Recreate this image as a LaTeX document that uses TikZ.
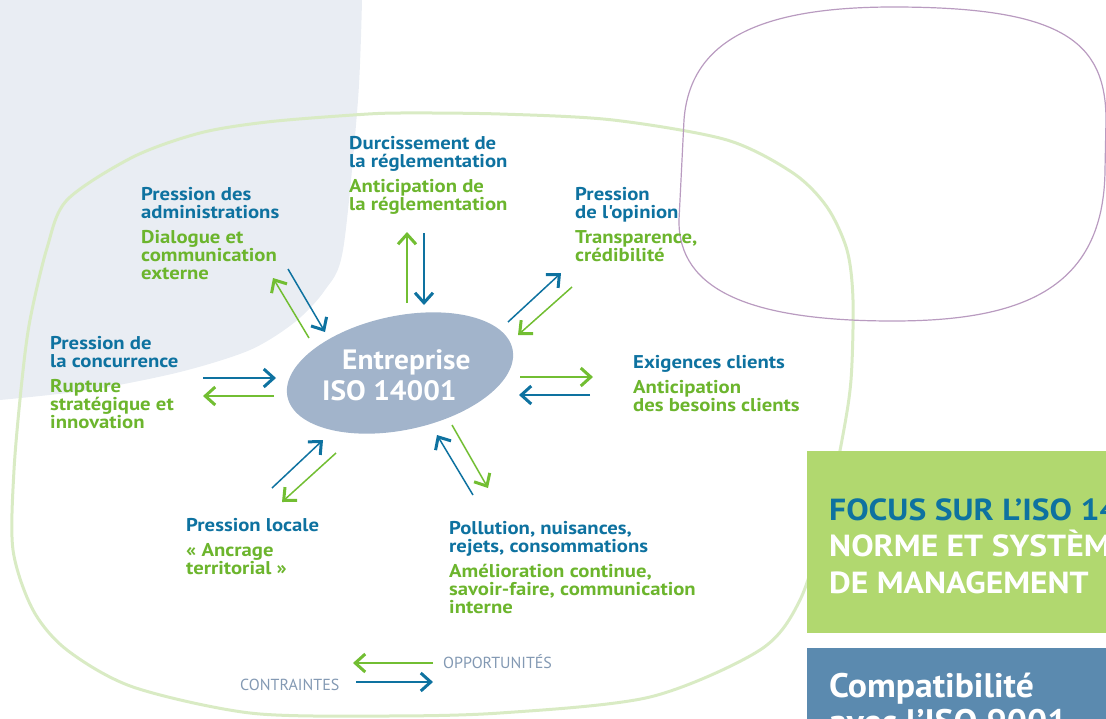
\documentclass[tikz,border=0pt]{standalone}
\usepackage{fontspec}
\setmainfont{PT Sans}
\newfontfamily\widefont{PT Sans}[FakeStretch=1.12]
\newfontfamily\entfont{PT Sans}[FakeStretch=1.05]
\newfontfamily\normefont{PT Sans}[FakeStretch=1.1]
\usetikzlibrary{arrows.meta,shapes.geometric}
\definecolor{txtblue}{HTML}{0E72A0}
\definecolor{txtgreen}{HTML}{6CB52D}
\definecolor{arrgreen}{HTML}{72BE32}
\definecolor{bggray}{HTML}{E9EDF3}
\definecolor{ringgreen}{HTML}{D9EBC4}
\definecolor{ringpurple}{HTML}{B99BC0}
\definecolor{entgray}{HTML}{A2B4CB}
\definecolor{legendgray}{HTML}{8399B3}
\definecolor{boxgreen}{HTML}{B1D86F}
\definecolor{boxblue}{HTML}{5B8AAF}
\begin{document}
\begin{tikzpicture}[x=1pt, y=-1pt,
    lbl/.style = {anchor=base west, align=left, inner sep=0, text=txtgreen, font=\widefont\fontsize{18.5}{18}\selectfont\bfseries},
    legend/.style = {anchor=base west, inner sep=0, text=legendgray, font=\fontsize{16}{16}\selectfont},
    fleche/.style = {line width=1.5pt, -{Straight Barb[length=10pt,width=18pt,line width=3pt]}},
    bl/.style = {fleche, draw=txtblue},
    gr/.style = {fleche, draw=arrgreen}]
\useasboundingbox (0,0) rectangle (1106,718);
\clip (0,0) rectangle (1106,718);
% background shapes
\fill[bggray] (0,0) -- plot[smooth] coordinates {(362,0) (358,100) (343,250) (325,290) (295,322) (250,350) (180,372) (90,390) (0,400)} -- cycle;
\draw[ringgreen, line width=3pt] plot[smooth cycle] coordinates {(400,113) (500,114) (613,120) (727,140) (793,173) (827,207) (847,250) (853,300) (851,380) (842,440) (825,520) (800,600) (760,650) (650,697) (500,713) (380,716) (250,713) (133,687) (67,650) (33,610) (13,550) (14,470) (22,380) (30,320) (47,248) (67,200) (133,157) (200,133) (267,122) (353,115)};
\draw[ringpurple, line width=1.2pt] (893,7) .. controls (1060,7) and (1106,40) .. (1106,120) -- (1105,170) .. controls (1104,290) and (1020,321) .. (893,321) .. controls (750,321) and (678,290) .. (679,220) -- (684,120) .. controls (690,40) and (760,7) .. (893,7) -- cycle;
% centre
\node[ellipse, fill=entgray, inner sep=0, minimum width=230, minimum height=114, rotate=12] (ent) at (400,373) {};
\node[anchor=base west, align=left, inner sep=0, text=white, font=\entfont\fontsize{28}{31}\selectfont\bfseries] (enttxt) at (322,400) {\hspace*{20pt}Entreprise\\ISO 14001};
% labels
\node[lbl] (regl) at (349,210) {\textcolor{txtblue}{Durcissement de}\\\textcolor{txtblue}{la réglementation}\\[7pt]Anticipation de\\la réglementation};
\node[lbl] (admin) at (141,279) {\textcolor{txtblue}{Pression des}\\\textcolor{txtblue}{administrations}\\[7pt]Dialogue et\\communication\\externe};
\node[lbl] (opin) at (575,261) {\textcolor{txtblue}{Pression}\\\textcolor{txtblue}{de l'opinion}\\[7pt]Transparence,\\crédibilité};
\node[lbl] (conc) at (50,428) {\textcolor{txtblue}{Pression de}\\\textcolor{txtblue}{la concurrence}\\[7pt]Rupture\\stratégique et\\innovation};
\node[lbl] (clients) at (633,411) {\textcolor{txtblue}{Exigences clients}\\[7pt]Anticipation\\des besoins clients};
\node[lbl] (local) at (186,574) {\textcolor{txtblue}{Pression locale}\\[7pt]« Ancrage\\territorial »};
\node[lbl] (pollu) at (449,613) {\textcolor{txtblue}{Pollution, nuisances,}\\\textcolor{txtblue}{rejets, consommations}\\[7pt]Amélioration continue,\\savoir-faire, communication\\interne};
% arrows
\foreach \n/\s/\xa/\ya/\xb/\yb in {
    reglup/gr/407/303/407/232, regldown/bl/424/233/424/305,
    adminin/bl/288/269/325/332, adminout/gr/309/338/273/278,
    opinout/bl/508/322/561/273, opinin/gr/572/287/518/335,
    concin/bl/203/378/276/378, concout/gr/274/396/203/396,
    cliout/gr/520/377/593/377, cliin/bl/590/395/519/395,
    localin/bl/272/488/323/440, localout/gr/336/453/282/502,
    polluin/bl/473/495/437/435, polluout/gr/452/425/488/488,
    legopp/gr/433/663/353/663, legcon/bl/356/682/433/682}
  {\coordinate (\n a) at (\xa,\ya);
   \coordinate (\n b) at (\xb,\yb);
   \draw[\s] (\n a) -- (\n b);}
\node[legend] (opp) at (443,668) {OPPORTUNITÉS};
\node[legend] (con) at (240,690) {CONTRAINTES};
% side boxes
\fill[boxgreen] (807,451) rectangle (1110,633);
\fill[boxblue] (807,648) rectangle (1110,740);
\node[anchor=base west, align=left, inner sep=0, text=white, font=\normefont\fontsize{30.5}{36.5}\selectfont\bfseries] (focus) at (829,593) {\textcolor{txtblue}{FOCUS SUR L’ISO 14001}\\NORME ET SYSTÈME\\DE MANAGEMENT};
\node[anchor=base west, align=left, inner sep=0, text=white, font=\entfont\fontsize{34}{36}\selectfont\bfseries] (compat) at (829,733) {Compatibilité\\avec l’ISO 9001};
\end{tikzpicture}
\end{document}
